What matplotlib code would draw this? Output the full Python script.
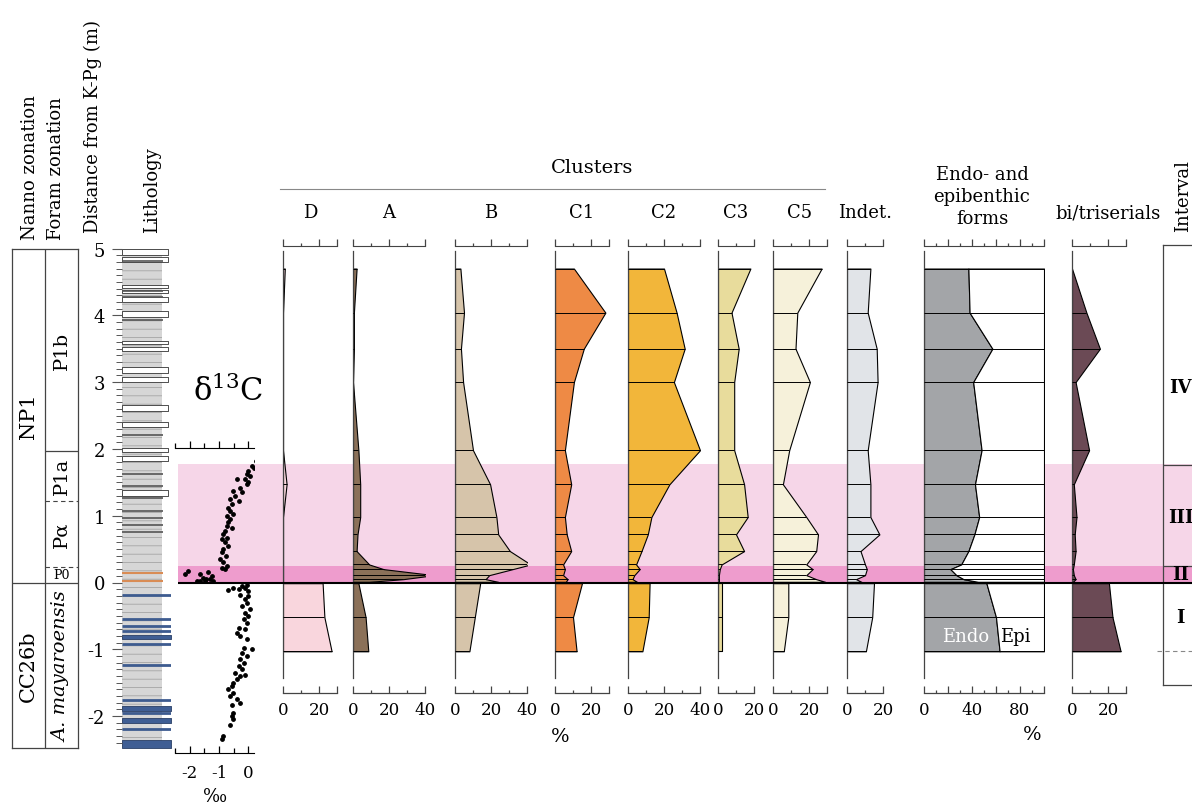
import numpy as np
import matplotlib.pyplot as plt
from matplotlib.lines import Line2D
from matplotlib.ticker import FixedLocator, MultipleLocator, FuncFormatter

plt.rcParams['font.family'] = 'DejaVu Serif'
plt.rcParams['mathtext.fontset'] = 'dejavuserif'
plt.rcParams['axes.unicode_minus'] = False
plt.rcParams['hatch.linewidth'] = 0.5

W, H = 1192, 804
K0, PXM = 583.5, 66.8   # pixel row of the K-Pg boundary, pixels per metre

# ---------------------------------------------
# data: sample depths (m from K-Pg) and abundances (%)
# ---------------------------------------------
depth = [4.7, 4.04, 3.5, 3.0, 1.98, 1.47, 0.98, 0.72, 0.47, 0.27, 0.2, 0.11,
         0.05, 0.01, -0.01, -0.52, -1.03]
clus_d = [1, 0, 0, 0, 0, 2, 0, 0, 0, 0, 0, 0, 0, 0, 22, 23, 27]
clus_a = [2, 0.5, 0.5, 0, 3, 4, 4, 2.5, 2, 9, 17, 45, 28, 9, 3, 7, 8.5]
clus_b = [3, 5, 3.3, 4.5, 10, 19.5, 23, 24, 30.5, 42, 32, 19, 17, 24, 14, 11, 8]
clus_c1 = [10.5, 28, 16, 10.5, 5.5, 9, 5.5, 6.5, 9, 4.5, 5.5, 4.5, 7, 6, 15, 10, 12]
clus_c2 = [20, 27, 31.5, 25.5, 40, 23, 13, 11, 7.5, 4.5, 6.5, 3.5, 2.5, 5, 12, 11.5, 8]
clus_c3 = [18, 7.5, 11.5, 9, 9, 14.5, 16.5, 10, 14.5, 2, 1, 0.5, 0.5, 0.5, 2, 2, 2]
clus_c5 = [27, 13.5, 12.5, 20.5, 9, 5.5, 18.5, 25, 24, 18.5, 22, 18.5, 24, 29, 8.5, 8.5, 6]
indet = [13, 11.5, 16.5, 17, 11.5, 13, 13, 18, 7.5, 10, 11, 10, 5, 8, 15, 14, 10.5]
endo = [37, 38, 57, 41, 48, 42.5, 46, 42, 37, 31, 22, 27, 33, 45, 52, 60, 63]
bitri = [0, 8, 15.5, 2, 9.5, 1, 2.5, 1.5, 2, 1, 0.5, 1, 2, 0.5, 20.5, 22.5, 27]

# bulk carbonate d13C (permil)
d13c_depth = [1.82, 1.75, 1.71, 1.67, 1.62, 1.59, 1.55, 1.51, 1.55, 1.47, 1.42, 1.37,
              1.35, 1.30, 1.25, 1.22, 1.17, 1.12, 1.07, 1.02, 1.00, 0.95, 0.90, 0.85,
              0.82, 0.77, 0.72, 0.67, 0.65, 0.60, 0.55, 0.50, 0.45, 0.40, 0.35, 0.30,
              0.25, 0.22, 0.20, 0.17, 0.12, 0.12, 0.07, 0.05, 0.05, 0.02, 0.02, 0.02,
              0.02, 0.10, 0.15,
              -0.11, -0.08, -0.10, -0.05, -0.08, -0.03, -0.13, -0.18, -0.20, -0.25,
              -0.30, -0.35, -0.40, -0.45, -0.50, -0.55, -0.60, -0.68, -0.70, -0.75,
              -0.80, -0.85, -1.00, -0.98, -1.05, -1.10, -1.15, -1.20, -1.25, -1.30,
              -1.35, -1.40, -1.38, -1.45, -1.50, -1.55, -1.60, -1.65, -1.70, -1.75,
              -1.80, -1.83, -1.95, -2.00, -2.05, -2.13, -2.30, -2.35]
d13c_val = [0.28, 0.13, 0.21, 0.01, -0.04, 0.07, -0.10, 0.01, -0.39, -0.04, -0.28, -0.51,
            -0.22, -0.45, -0.62, -0.33, -0.56, -0.68, -0.62, -0.51, -0.74, -0.62, -0.68, -0.74,
            -0.56, -0.79, -0.85, -0.74, -0.91, -0.79, -0.70, -0.85, -0.91, -0.76, -0.97, -0.85,
            -0.74, -0.91, -0.79, -2.06, -2.17, -1.66, -1.54, -1.43, -1.31, -1.66, -1.48, -1.77,
            -1.20, -1.25, -1.37,
            -0.68, -0.51, -0.33, -0.22, -0.10, -0.04, 0.01, -0.28, 0.01, -0.10,
            -0.04, -0.22, 0.07, -0.10, 0.01, -0.16, -0.04, -0.33, -0.10, -0.39,
            -0.28, -0.04, 0.13, -0.16, -0.22, -0.04, -0.28, -0.16, -0.33, -0.22,
            -0.45, -0.28, -0.10, -0.39, -0.51, -0.56, -0.68, -0.51, -0.62, -0.39,
            -0.28, -0.56, -0.51, -0.56, -0.51, -0.62, -0.85, -0.91]

# lithology (m): limestone beds, marl partings, blue beds
lime_beds = [(5.0, 4.9), (4.87, 4.80), (4.45, 4.41), (4.38, 4.34), (4.27, 4.20),
             (4.07, 3.97), (3.62, 3.57), (3.53, 3.46), (3.22, 3.14), (3.07, 3.0),
             (2.66, 2.57), (2.41, 2.33), (2.01, 1.95), (1.89, 1.82), (1.39, 1.30)]
marl_lines = [4.82, 4.37, 4.27, 3.93, 2.21, 1.62, 1.45, 1.27, 1.07, 0.96, 0.86, 0.76]
orange_lines = [0.14, 0.02]
blue_lines = [-0.18, -0.55, -0.65, -0.72, -0.92, -1.24, -1.76, -1.96, -2.2]
blue_beds = [(-0.78, -0.85), (-1.85, -1.92), (-2.03, -2.10), (-2.36, -2.48)]

# zonation boundaries (m)
foram_solid = [1.97]
foram_dashed = [1.22, 0.23]

fig = plt.figure(figsize=(W / 100, H / 100), dpi=100)


def axes_at(x0, x1, dtop, dbot):
    top_px = K0 - PXM * dtop
    bot_px = K0 - PXM * dbot
    return fig.add_axes([x0 / W, 1 - bot_px / H, (x1 - x0) / W, (bot_px - top_px) / H])


def ftext(x, y, s, **kw):
    fig.text(x / W, 1 - y / H, s, **kw)


# background: pink intervals
bg = fig.add_axes([0, 0, 1, 1])
bg.set_zorder(-1)
bg.set_xlim(0, W)
bg.set_ylim((K0 - H) / PXM, K0 / PXM)
bg.axis('off')
bg.axhspan(0.245, 1.77, xmin=178 / W, xmax=1, color='#F6D6E8', lw=0)
bg.axhspan(0, 0.245, xmin=178 / W, xmax=1, color='#EE9CCD', lw=0)
bg.hlines(-1.03, 1157, W, color='#888888', lw=0.8, ls=(0, (4, 3)))

# ---------------------------------------------
# zonation columns
# ---------------------------------------------
zx = axes_at(12.3, 78.3, 5.0, -2.48)
zx.set_xlim(0, 2)
zx.set_ylim(-2.48, 5.0)
zx.set_xticks([])
zx.set_yticks([])
for s in zx.spines.values():
    s.set_color('#444')
    s.set_linewidth(0.9)
zx.axvline(1, color='#444', lw=0.9)
zx.hlines(0, 0, 2, color='#444', lw=0.9)
zx.hlines(foram_solid, 1, 2, color='#444', lw=0.9)
zx.hlines(foram_dashed, 1, 2, color='#444', lw=0.8, ls=(0, (4, 3)))
zx.text(0.5, 2.5, 'NP1', rotation=90, ha='center', va='center', fontsize=15)
zx.text(0.5, -1.24, 'CC26b', rotation=90, ha='center', va='center', fontsize=15)
zx.text(1.5, 3.48, 'P1b', rotation=90, ha='center', va='center', fontsize=14)
zx.text(1.5, 1.6, 'P1a', rotation=90, ha='center', va='center', fontsize=14)
zx.text(1.5, 0.73, 'Pα', rotation=90, ha='center', va='center', fontsize=14)
zx.text(1.5, 0.115, 'P0', ha='center', va='center', fontsize=9)
zx.text(1.5, -1.24, 'A. mayaroensis', rotation=90, ha='center', va='center',
        fontsize=14, style='italic')

# ---------------------------------------------
# lithology
# ---------------------------------------------
lx = axes_at(121.7, 171, 5.0, -2.48)
lx.set_xlim(0, 1)
lx.set_ylim(-2.48, 5.0)
lx.patch.set_visible(False)
lx.fill_betweenx([-2.48, 5.0], 0, 0.81, fc='#D6D6D6', ec='#9A9A9A', hatch='--', lw=0)
for t, b in lime_beds:
    lx.fill_betweenx([b, t], 0, 0.94, fc='white', ec='#333333', lw=0.6)
lx.hlines(marl_lines, 0, 0.84, color='#555555', lw=1.2)
lx.hlines(orange_lines, 0, 0.83, color='#D98C55', lw=1.5)
lx.hlines(blue_lines, 0, 1.0, color='#3D5B8F', lw=2)
for t, b in blue_beds:
    lx.fill_betweenx([b, t], 0, 1.0, fc='#3F5E94', ec='#2A3F66', lw=0.6)
for s in lx.spines.values():
    s.set_visible(False)
lx.set_xticks([])
lx.yaxis.set_major_locator(MultipleLocator(1))
lx.yaxis.set_minor_locator(MultipleLocator(0.1))
lx.tick_params(axis='y', which='major', length=7, width=0.8, color='#555555',
               labelsize=13, pad=5)
lx.tick_params(axis='y', which='minor', length=4, width=0.7, color='#555555')

# ---------------------------------------------
# d13C
# ---------------------------------------------
cx = axes_at(175.3, 254, 2.01, -2.55)
cx.set_xlim(-2.5, 0.2)
cx.set_ylim(-2.55, 2.01)
cx.patch.set_visible(False)
cx.scatter(d13c_val, d13c_depth, s=6, color='black', zorder=3)
for s in ('left', 'right', 'top'):
    cx.spines[s].set_visible(False)
cx.set_yticks([])
cx.xaxis.set_major_locator(FixedLocator([-2, -1, 0]))
cx.xaxis.set_minor_locator(MultipleLocator(0.5))
cx.tick_params(axis='x', which='major', direction='in', length=5, width=0.9,
               labelsize=12, pad=8)
cx.tick_params(axis='x', which='minor', direction='in', length=3.5, width=0.9)
ctop = cx.secondary_xaxis('top')
ctop.xaxis.set_major_locator(FixedLocator([-2, -1, 0]))
ctop.xaxis.set_minor_locator(MultipleLocator(0.5))
ctop.tick_params(axis='x', which='major', direction='out', length=5, width=0.9, labeltop=False)
ctop.tick_params(axis='x', which='minor', direction='out', length=3.5, width=0.9)
ftext(228, 392, 'δ$^{13}$C', ha='center', va='center', fontsize=22)
ftext(215, 797, '‰', ha='center', va='center', fontsize=13)


# ---------------------------------------------
# benthic foram panels
# ---------------------------------------------
def panel(x0, xmax, vals, color, title, majors, labels, ppx=1.8, box=False):
    ax = axes_at(x0, x0 + xmax * ppx, 5.03, -1.65)
    ax.set_xlim(0, xmax)
    ax.set_ylim(-1.65, 5.03)
    ax.patch.set_visible(False)
    d = np.array(depth)
    v = np.array(vals, dtype=float)
    for m in (d > 0, d < 0):
        ax.fill_betweenx(d[m], 0, v[m], fc=color, ec='black', lw=0.8, zorder=2)
        if box:
            ax.fill_betweenx(d[m], v[m], xmax, fc='white', ec='black', lw=0.8, zorder=2)
    ax.hlines(d, 0, xmax if box else v, color='black', lw=0.7, zorder=3)
    for s in ('top', 'right'):
        ax.spines[s].set_visible(False)
    ax.spines['left'].set_bounds(-1.43, 4.97)
    for s in ('left', 'bottom'):
        ax.spines[s].set_color('#444444')
        ax.spines[s].set_linewidth(0.9)
    ax.set_yticks([])
    ax.xaxis.set_major_locator(FixedLocator(majors))
    ax.xaxis.set_minor_locator(MultipleLocator(10))
    ax.xaxis.set_major_formatter(
        FuncFormatter(lambda x, p: f'{x:.0f}' if round(x) in labels else ''))
    ax.tick_params(axis='x', which='major', direction='in', length=5, width=0.9,
                   color='#444444', labelsize=12, pad=6)
    ax.tick_params(axis='x', which='minor', direction='in', length=2.5, width=0.9,
                   color='#444444')
    top = ax.secondary_xaxis('top')
    top.xaxis.set_major_locator(FixedLocator(majors))
    top.xaxis.set_minor_locator(MultipleLocator(10))
    top.tick_params(axis='x', which='major', direction='out', length=5, width=0.9,
                    color='#444444', labeltop=False)
    top.tick_params(axis='x', which='minor', direction='out', length=2.5, width=0.9,
                    color='#444444')
    top.spines['top'].set_color('#444444')
    if title:
        ftext(x0 + xmax * ppx / 2, 213, title, ha='center', va='center', fontsize=13)
    return ax


panel(283, 30, clus_d, '#F9D6DD', 'D', [0, 20, 30], [0, 20])
panel(353, 40, clus_a, '#8B7159', 'A', [0, 20, 40], [0, 20, 40])
panel(455, 40, clus_b, '#D6C4AA', 'B', [0, 20, 40], [0, 20, 40])
panel(555, 30, clus_c1, '#EE8A45', 'C1', [0, 20, 30], [0, 20])
panel(628, 40, clus_c2, '#F2B63A', 'C2', [0, 20, 40], [0, 20, 40])
panel(718, 20, clus_c3, '#E8DC9C', 'C3', [0, 20], [0, 20])
panel(773, 30, clus_c5, '#F6F1DA', 'C5', [0, 20, 30], [0, 20])
panel(847, 20, indet, '#E1E4E8', 'Indet.', [0, 20], [0, 20])
ex = panel(924, 100, endo, '#A3A5A8', None, [0, 20, 40, 60, 80, 100], [0, 40, 80],
           ppx=1.2, box=True)
ex.text(35, -0.8, 'Endo', color='white', ha='center', va='center', fontsize=13, zorder=4)
ex.text(76, -0.8, 'Epi', color='black', ha='center', va='center', fontsize=13, zorder=4)
panel(1072, 30, bitri, '#6B4A55', None, [0, 20, 30], [0, 20])

# ---------------------------------------------
# interval column
# ---------------------------------------------
ix = axes_at(1163, 1205, 5.05, -1.53)
ix.set_xlim(0, 1)
ix.set_ylim(-1.53, 5.05)
ix.patch.set_visible(False)
ix.set_xticks([])
ix.set_yticks([])
for s in ix.spines.values():
    s.set_color('#444444')
    s.set_linewidth(0.9)
ix.hlines([1.76, 0.245], 0, 1, color='#444444', lw=0.9)
for lab, dd in [('IV', 2.93), ('III', 0.98), ('II', 0.12), ('I', -0.52)]:
    ix.text(0.42, dd, lab, ha='center', va='center', fontsize=13, fontweight='bold')

# K-Pg boundary line on top of everything
ov = fig.add_axes([0, 0, 1, 1])
ov.set_zorder(5)
ov.set_xlim(0, W)
ov.set_ylim((K0 - H) / PXM, K0 / PXM)
ov.axis('off')
ov.hlines(0, 178, W, color='black', lw=1.5)

# ---------------------------------------------
# headers
# ---------------------------------------------
for x, s, yb in [(30, 'Nanno zonation', 240), (56, 'Foram zonation', 240),
                 (93, 'Distance from K-Pg (m)', 233), (152, 'Lithology', 233),
                 (1183, 'Interval', 232)]:
    ftext(x, yb, s, rotation=90, ha='center', va='bottom', fontsize=13)
ftext(592, 168, 'Clusters', ha='center', va='center', fontsize=14)
fig.add_artist(Line2D([280 / W, 825 / W], [1 - 190 / H, 1 - 190 / H],
                      transform=fig.transFigure, color='#888888', lw=0.8))
ftext(982, 197, 'Endo- and\nepibenthic\nforms', ha='center', va='center',
      fontsize=13, linespacing=1.25)
ftext(1108, 213, 'bi/triserials', ha='center', va='center', fontsize=13)
ftext(560, 737, '%', ha='center', va='center', fontsize=14)
ftext(1032, 735, '%', ha='center', va='center', fontsize=14)

fig.savefig('out.png', dpi=100)
